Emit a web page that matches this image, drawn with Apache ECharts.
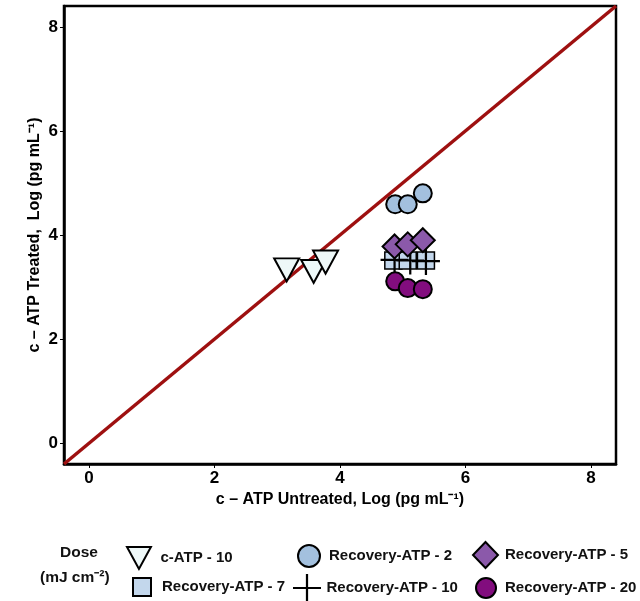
<!DOCTYPE html>
<html>
<head>
<meta charset="utf-8">
<script src="https://cdn.jsdelivr.net/npm/echarts@6/dist/echarts.min.js"></script>
<style>
  html, body { margin: 0; padding: 0; background: #fff; }
  #chart { width: 640px; height: 601px; }
</style>
</head>
<body>
<div id="chart"></div>
<script>
// values: [untreated, treated] in log pg/mL
var catp10 = [[3.15, 3.33], [3.58, 3.30], [3.77, 3.48]];
var rec2 = [[4.88, 4.59], [5.08, 4.59], [5.32, 4.80]];
var rec5 = [[4.87, 3.78], [5.08, 3.82], [5.32, 3.90]];
var rec7 = [[4.85, 3.51], [5.08, 3.51], [5.37, 3.51]];
var rec10 = [[4.87, 3.52], [5.12, 3.51], [5.37, 3.50]];
var rec20 = [[4.88, 3.11], [5.08, 2.98], [5.32, 2.96]];
var axisMin = -0.4, axisMax = 8.4;
var tickVals = [0, 2, 4, 6, 8];

var FONT = "Liberation Sans";
var triPath = "path://M0,0 L100,0 L50,92 Z";
var plusPath = "path://M46,0 H54 V46 H100 V54 H54 V100 H46 V54 H0 V46 H46 Z";

var myChart = echarts.init(document.getElementById("chart"));

function pointSeries(name, data, symbol, size, color, border) {
  return {
    name: name,
    type: "scatter",
    data: data,
    symbol: symbol,
    symbolSize: size,
    itemStyle: {
      color: color,
      borderColor: "#000",
      borderWidth: border,
      opacity: 1
    },
    z: 3
  };
}

function legendAt(name, left, top, w, h, gap, lift) {
  return {
    data: [name],
    left: left,
    top: top,
    itemWidth: w,
    itemHeight: h,
    padding: 0,
    selectedMode: false,
    textStyle: {
      fontFamily: FONT, fontSize: 15, fontWeight: "bold", color: "#111",
      padding: [0, 0, lift || 0, gap || 0]
    }
  };
}

myChart.setOption({
  animation: false,
  grid: {
    left: 64,
    right: 24,
    top: 6,
    bottom: 137,
    show: true,
    borderColor: "#000",
    borderWidth: 2.5
  },
  xAxis: {
    type: "value",
    min: axisMin,
    max: axisMax,
    interval: 2,
    splitLine: { show: false },
    axisLine: { show: true, onZero: false, lineStyle: { color: "#000", width: 2.5 } },
    axisTick: { show: true, length: 4, lineStyle: { color: "#000", width: 1 }, customValues: tickVals },
    axisLabel: {
      customValues: tickVals,
      fontFamily: FONT, fontSize: 17, fontWeight: "bold", color: "#000", margin: 6
    },
    name: "c – ATP Untreated, Log (pg mL⁻¹)",
    nameLocation: "middle",
    nameGap: 28,
    nameMoveOverlap: false,
    nameTextStyle: { fontFamily: FONT, fontSize: 16, fontWeight: "bold", color: "#000" }
  },
  yAxis: {
    type: "value",
    min: axisMin,
    max: axisMax,
    interval: 2,
    splitLine: { show: false },
    axisLine: { show: true, onZero: false, lineStyle: { color: "#000", width: 2.5 } },
    axisTick: { show: true, length: 4, lineStyle: { color: "#000", width: 1 }, customValues: tickVals },
    axisLabel: {
      customValues: tickVals,
      fontFamily: FONT, fontSize: 17, fontWeight: "bold", color: "#000", margin: 6
    },
    name: "c – ATP Treated,  Log (pg mL⁻¹)",
    nameLocation: "middle",
    nameGap: 21,
    nameMoveOverlap: false,
    nameTextStyle: { fontFamily: FONT, fontSize: 16, fontWeight: "bold", color: "#000" }
  },
  legend: [
    legendAt("c-ATP - 10", 126, 546, 27, 22, 3, 6),
    legendAt("Recovery-ATP - 2", 297, 544, 22, 22, 4, 2),
    legendAt("Recovery-ATP - 5", 472, 541, 25, 26, 2),
    legendAt("Recovery-ATP - 7", 132, 577, 18, 18, 6),
    legendAt("Recovery-ATP - 10", 293, 574, 29, 28, 0),
    legendAt("Recovery-ATP - 20", 475, 577, 20, 20, 4)
  ],
  graphic: [
    { type: "text", left: 60, top: 545, style: { text: "Dose", fontFamily: FONT, fontSize: 15.5, fontWeight: "bold", fill: "#111" } },
    { type: "text", left: 40, top: 570, style: { text: "(mJ cm⁻²)", fontFamily: FONT, fontSize: 15.5, fontWeight: "bold", fill: "#111" } }
  ],
  series: [
    {
      name: "identity",
      type: "line",
      data: [[axisMin, axisMin], [axisMax, axisMax]],
      symbol: "none",
      lineStyle: { color: "#9e1010", width: 3.5 },
      silent: true,
      z: 2
    },
    pointSeries("c-ATP - 10", catp10, triPath, [25, 23], "#eef8f8", 2),
    pointSeries("Recovery-ATP - 2", rec2, "circle", 18, "#a3c0de", 2),
    pointSeries("Recovery-ATP - 7", rec7, "rect", 17, "#c3d7ec", 1.5),
    pointSeries("Recovery-ATP - 10", rec10, plusPath, 28, "#000", 0),
    pointSeries("Recovery-ATP - 5", rec5, "diamond", [24, 24], "#8b59aa", 2),
    pointSeries("Recovery-ATP - 20", rec20, "circle", 18, "#820d7e", 2)
  ]
});
</script>
</body>
</html>
